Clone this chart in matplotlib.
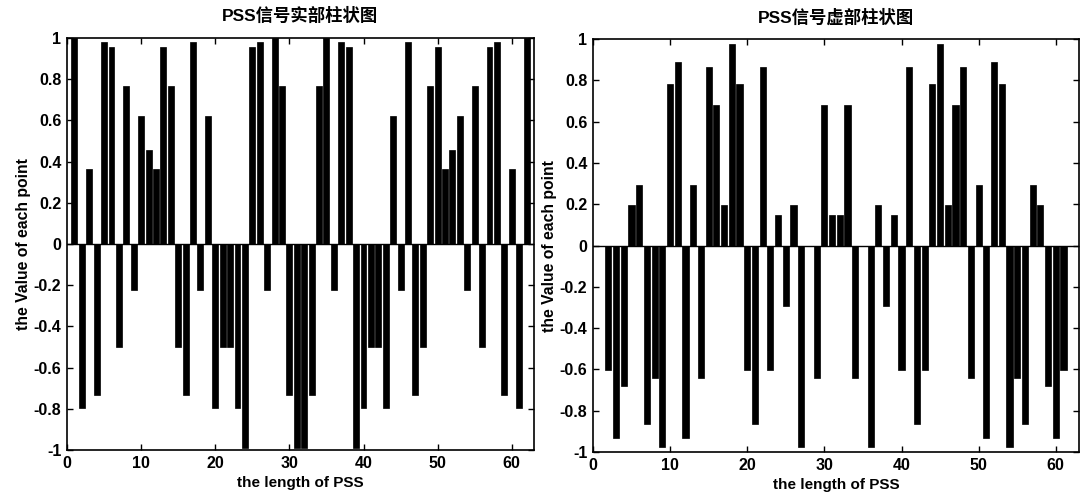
import matplotlib
matplotlib.use("Agg")
from matplotlib import pyplot as plt

plt.rcParams["font.family"] = ["Liberation Sans", "Noto Sans CJK SC", "DejaVu Sans"]
plt.rcParams["font.weight"] = "bold"

# PSS sample index 1..62
index = list(range(1, 63))

real_part = [1.0, -0.797, 0.365, -0.733, 0.980, 0.956, -0.5, 0.766, -0.223, 0.623,
             0.456, 0.365, 0.956, 0.766, -0.5, -0.733, 0.980, -0.223, 0.623, -0.797,
             -0.5, -0.5, -0.797, -0.989, 0.956, 0.980, -0.223, 1.0, 0.766, -0.733,
             -0.989, -0.989, -0.733, 0.766, 1.0, -0.223, 0.980, 0.956, -0.989, -0.797,
             -0.5, -0.5, -0.797, 0.623, -0.223, 0.980, -0.733, -0.5, 0.766, 0.956,
             0.365, 0.456, 0.623, -0.223, 0.766, -0.5, 0.956, 0.980, -0.733, 0.365,
             -0.797, 1.0]

imag_part = [0.0, -0.604, -0.931, -0.680, 0.198, 0.295, -0.866, -0.643, -0.975, 0.782,
             0.890, -0.931, 0.295, -0.643, 0.866, 0.680, 0.198, 0.975, 0.782, -0.604,
             -0.866, 0.866, -0.604, 0.149, -0.295, 0.198, -0.975, 0.0, -0.643, 0.680,
             0.149, 0.149, 0.680, -0.643, 0.0, -0.975, 0.198, -0.295, 0.149, -0.604,
             0.866, -0.866, -0.604, 0.782, 0.975, 0.198, 0.680, 0.866, -0.643, 0.295,
             -0.931, 0.890, 0.782, -0.975, -0.643, -0.866, 0.295, 0.198, -0.680, -0.931,
             -0.604, 0.0]

titles = ["PSS信号实部柱状图", "PSS信号虚部柱状图"]
yticks = [-1, -0.8, -0.6, -0.4, -0.2, 0, 0.2, 0.4, 0.6, 0.8, 1]
ytick_labels = ["-1", "-0.8", "-0.6", "-0.4", "-0.2", "0", "0.2", "0.4", "0.6", "0.8", "1"]


def draw_bars(ax, values, title):
    ax.bar(index, values, width=0.8, color="black", edgecolor="black", linewidth=0.5)
    ax.axhline(0, color="black", linewidth=1)
    ax.set_xlim(0, 63)
    ax.set_ylim(-1, 1)
    ax.set_xticks([0, 10, 20, 30, 40, 50, 60])
    ax.set_yticks(yticks, labels=ytick_labels)
    ax.tick_params(direction="in", top=True, right=True, length=4, width=1,
                   labelsize=11.5, pad=4)
    for lab in ax.get_xticklabels() + ax.get_yticklabels():
        lab.set_fontweight("bold")
    for sp in ax.spines.values():
        sp.set_linewidth(1.2)
    ax.set_title(title, fontsize=12.5, fontweight="bold", pad=12)
    ax.set_xlabel("the length of PSS", fontsize=11, fontweight="bold", labelpad=4)
    ax.set_ylabel("the Value of each point", fontsize=11.3, fontweight="bold", labelpad=2)


fig = plt.figure(figsize=(10.86, 5.0), dpi=100)
ax1 = fig.add_axes([0.0617, 0.100, 0.430, 0.824])
ax2 = fig.add_axes([0.546, 0.096, 0.4475, 0.826])

draw_bars(ax1, real_part, titles[0])
draw_bars(ax2, imag_part, titles[1])

fig.savefig("out.png", dpi=100)
